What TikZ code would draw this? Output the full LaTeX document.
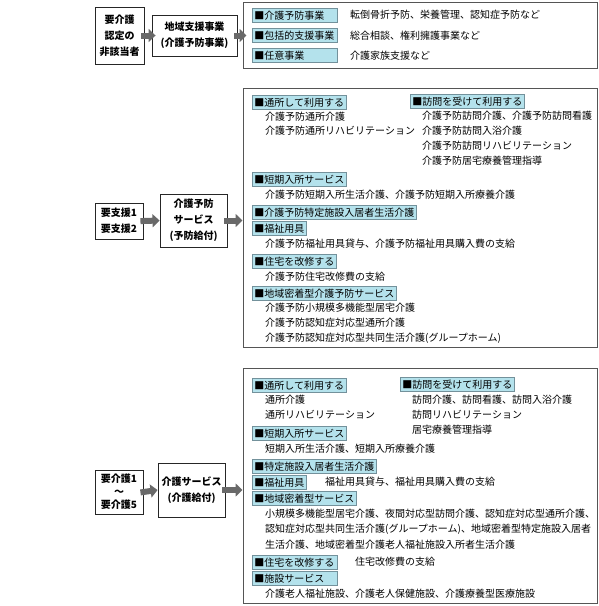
\documentclass[tikz,border=0pt]{standalone}
\usepackage{fontspec}
\setmainfont{Noto Sans CJK JP}
\usetikzlibrary{arrows.meta}

\definecolor{tagblue}{RGB}{180,226,236}
\definecolor{tagline}{RGB}{115,145,155}
\definecolor{boxline}{RGB}{85,85,85}
\definecolor{arrowgray}{RGB}{105,105,105}

\tikzset{
  stage/.style={draw=black!85, fill=white, line width=0.9pt, align=center, inner sep=1pt, font=\bfseries\fontsize{10}{16}\selectfont},
  group/.style={draw=boxline, line width=1pt, inner sep=0pt},
  tag/.style={draw=tagline, fill=tagblue, line width=0.8pt, anchor=west, inner xsep=2pt, inner ysep=1.5pt, minimum height=14pt, text depth=0pt, font=\fontsize{10}{12}\selectfont},
  widetag/.style={tag, text width=81pt, align=left},
  item/.style={anchor=west, inner sep=0pt, font=\fontsize{10}{12}\selectfont},
  flow/.style={line width=6pt, arrowgray, shorten <=-3pt, -{Triangle[length=7pt, width=13pt]}}
}

\begin{document}
\begin{tikzpicture}[x=1pt, y=-1pt]
    \useasboundingbox (0,0) rectangle (599,606);
    \node[group, minimum width=354pt, minimum height=66pt] (jigyo) at (420,35) {};
    \node[group, minimum width=354pt, minimum height=259pt] (yobokyufu) at (420,217.5) {};
    \node[group, minimum width=354pt, minimum height=235pt] (kaigokyufu) at (420,485.5) {};

    \node[stage, minimum width=49pt, minimum height=57pt] (higaito) at (119.5,35.5) {要介護\\認定の\\非該当者};
    \node[stage, minimum width=85pt, minimum height=41pt] (chiiki) at (194.5,35.5) {地域支援事業\\(介護予防事業)};
    \node[stage, minimum width=48pt, minimum height=36pt] (yoshien) at (119,221) {要支援1\\要支援2};
    \node[stage, minimum width=67pt, minimum height=53pt] (yobo) at (193.5,220.5) {介護予防\\サービス\\(予防給付)};
    \node[stage, minimum width=48pt, minimum height=44pt] (yokaigo) at (119,492) {要介護1\\[-3pt]〜\\[-3pt]要介護5};
    \node[stage, minimum width=67pt, minimum height=54pt] (kaigo) at (191.5,490) {介護サービス\\(介護給付)};

    \draw[flow, shorten >=-4pt] (higaito.east) -- (chiiki.west);
    \draw[flow, shorten >=-4pt] (chiiki.east) -- (chiiki.east -| jigyo.west);
    \draw[flow] (yoshien.east) -- (yobo.west);
    \draw[flow] (yobo.east) -- (yobo.east -| yobokyufu.west);
    \draw[flow] (yokaigo.east) -- (kaigo.west);
    \draw[flow] (kaigo.east) -- (kaigo.east -| kaigokyufu.west);

    \node[widetag] (jyobo) at (252,15) {■介護予防事業};
    \node[item] (jyobotxt) at (350,15) {転倒骨折予防、栄養管理、認知症予防など};
    \node[widetag] (jhoukatsu) at (252,35.5) {■包括的支援事業};
    \node[item] (jhoukatsutxt) at (350,35.5) {総合相談、権利擁護事業など};
    \node[widetag] (jnini) at (252,55.5) {■任意事業};
    \node[item] (jninitxt) at (350,55.5) {介護家族支援など};

    \node[tag] (ytsusho) at (252,102) {■通所して利用する};
    \node[item] (ytsusho1) at (265,117) {介護予防通所介護};
    \node[item] (ytsusho2) at (265,131) {介護予防通所リハビリテーション};
    \node[tag] (yhomon) at (410,101) {■訪問を受けて利用する};
    \node[item] (yhomon1) at (422,116) {介護予防訪問介護、介護予防訪問看護};
    \node[item] (yhomon2) at (422,131) {介護予防訪問入浴介護};
    \node[item] (yhomon3) at (422,146) {介護予防訪問リハビリテーション};
    \node[item] (yhomon4) at (422,161) {介護予防居宅療養管理指導};
    \node[tag] (ytanki) at (252,179) {■短期入所サービス};
    \node[item] (ytanki1) at (265,195) {介護予防短期入所生活介護、介護予防短期入所療養介護};
    \node[tag] (ytokutei) at (252,212) {■介護予防特定施設入居者生活介護};
    \node[tag] (yfukushi) at (252,228) {■福祉用具};
    \node[item] (yfukushi1) at (265,244) {介護予防福祉用具貸与、介護予防福祉用具購入費の支給};
    \node[tag] (yjutaku) at (252,261) {■住宅を改修する};
    \node[item] (yjutaku1) at (265,277) {介護予防住宅改修費の支給};
    \node[tag] (ychiiki) at (252,293) {■地域密着型介護予防サービス};
    \node[item] (ychiiki1) at (265,308) {介護予防小規模多機能型居宅介護};
    \node[item] (ychiiki2) at (265,323) {介護予防認知症対応型通所介護};
    \node[item] (ychiiki3) at (265,338) {介護予防認知症対応型共同生活介護(グループホーム)};

    \node[tag] (ktsusho) at (252,385) {■通所して利用する};
    \node[item] (ktsusho1) at (265,400) {通所介護};
    \node[item] (ktsusho2) at (265,415) {通所リハビリテーション};
    \node[tag] (khomon) at (400,384) {■訪問を受けて利用する};
    \node[item] (khomon1) at (412,400) {訪問介護、訪問看護、訪問入浴介護};
    \node[item] (khomon2) at (412,415) {訪問リハビリテーション};
    \node[item] (khomon3) at (412,430) {居宅療養管理指導};
    \node[tag] (ktanki) at (252,433) {■短期入所サービス};
    \node[item] (ktanki1) at (265,449) {短期入所生活介護、短期入所療養介護};
    \node[tag] (ktokutei) at (252,466) {■特定施設入居者生活介護};
    \node[tag] (kfukushi) at (252,482) {■福祉用具};
    \node[item] (kfukushi1) at (325,482) {福祉用具貸与、福祉用具購入費の支給};
    \node[tag] (kchiiki) at (252,498) {■地域密着型サービス};
    \node[item] (kchiiki1) at (265,514) {小規模多機能型居宅介護、夜間対応型訪問介護、認知症対応型通所介護、};
    \node[item] (kchiiki2) at (265,529) {認知症対応型共同生活介護(グループホーム)、地域密着型特定施設入居者};
    \node[item] (kchiiki3) at (265,545) {生活介護、地域密着型介護老人福祉施設入所者生活介護};
    \node[widetag] (kjutaku) at (252,562) {■住宅を改修する};
    \node[item] (kjutaku1) at (355,562) {住宅改修費の支給};
    \node[widetag] (kshisetsu) at (252,578) {■施設サービス};
    \node[item] (kshisetsu1) at (265,594) {介護老人福祉施設、介護老人保健施設、介護療養型医療施設};
\end{tikzpicture}
\end{document}
